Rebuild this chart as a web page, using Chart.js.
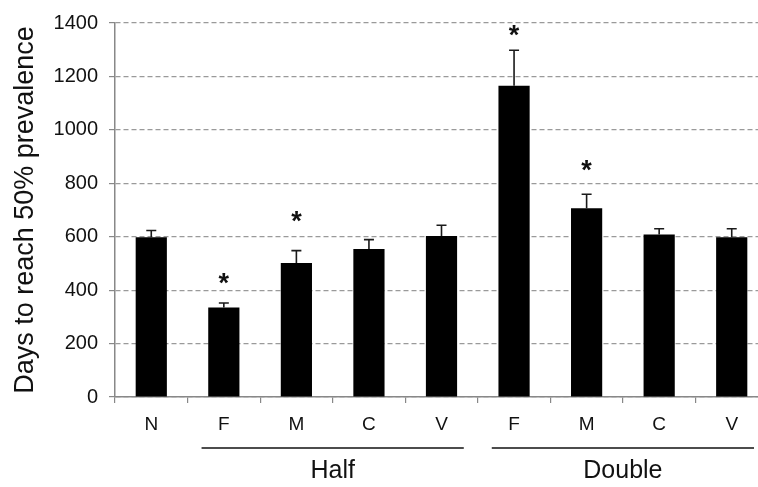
<!DOCTYPE html>
<html>
<head>
<meta charset="utf-8">
<script src="https://cdn.jsdelivr.net/npm/chart.js@4.4.1/dist/chart.umd.min.js"></script>
<style>
  html, body { margin: 0; padding: 0; background: #fff; overflow: hidden; }
  canvas { display: block; }
</style>
</head>
<body>
<canvas id="prevChart" width="770" height="487"></canvas>
<script>
// categories (N = normal, then half / double groups)
const labels = ['N', 'F', 'M', 'C', 'V', 'F', 'M', 'C', 'V'];
const days = [598, 335, 502, 554, 603, 1165, 707, 608, 598];
const errUp = [25, 17, 46, 35, 40, 133, 52, 22, 32];
// asterisk positions in data units (null = not significant)
const starY = [null, 438, 670, null, null, 1367, 861, null, null];
const yTicks = [0, 200, 400, 600, 800, 1000, 1200, 1400];

const groupNames = ['Half', 'Double'];
const groupStart = [1, 5];
const groupEnd = [4, 8];

const FONT = '"Liberation Sans", Arial, sans-serif';

const errorBars = {
  id: 'errorBars',
  afterDatasetsDraw(chart) {
    const ctx = chart.ctx;
    const x = chart.scales.x, y = chart.scales.y;
    ctx.save();
    ctx.strokeStyle = '#1a1a1a';
    ctx.lineWidth = 1.6;
    days.forEach((v, i) => {
      const cx = x.getPixelForValue(i);
      const y0 = y.getPixelForValue(v);
      const y1 = y.getPixelForValue(v + errUp[i]);
      ctx.beginPath();
      ctx.moveTo(cx, y0);
      ctx.lineTo(cx, y1);
      ctx.moveTo(cx - 5, y1);
      ctx.lineTo(cx + 5, y1);
      ctx.stroke();
    });
    ctx.fillStyle = '#111';
    ctx.font = 'bold 27px ' + FONT;
    ctx.textAlign = 'center';
    ctx.textBaseline = 'middle';
    starY.forEach((s, i) => {
      if (s === null) return;
      ctx.fillText('*', x.getPixelForValue(i), y.getPixelForValue(s) + 5);
    });
    ctx.restore();
  }
};

const groupLabels = {
  id: 'groupLabels',
  afterDraw(chart) {
    const ctx = chart.ctx;
    const x = chart.scales.x;
    ctx.save();
    ctx.strokeStyle = '#111';
    ctx.lineWidth = 1.5;
    ctx.fillStyle = '#111';
    ctx.font = '25px ' + FONT;
    ctx.textAlign = 'center';
    ctx.textBaseline = 'middle';
    groupNames.forEach((name, g) => {
      const x0 = x.getPixelForValue(groupStart[g] - 0.5) + 14;
      const x1 = x.getPixelForValue(groupEnd[g] + 0.5) - 14;
      ctx.beginPath();
      ctx.moveTo(x0, 448);
      ctx.lineTo(x1, 448);
      ctx.stroke();
      ctx.fillText(name, (x0 + x1) / 2, 471);
    });
    ctx.restore();
  }
};

new Chart(document.getElementById('prevChart'), {
  type: 'bar',
  data: {
    labels: labels,
    datasets: [{
      data: days,
      backgroundColor: '#000',
      borderWidth: 0,
      barPercentage: 0.43,
      categoryPercentage: 1.0
    }]
  },
  options: {
    responsive: false,
    animation: false,
    events: [],
    layout: { padding: { top: 20, right: 2, bottom: 50, left: 0 } },
    plugins: { legend: { display: false }, tooltip: { enabled: false } },
    scales: {
      x: {
        grid: { drawOnChartArea: false, color: '#888', tickLength: 6, lineWidth: 1.2 },
        border: { color: '#888', width: 1.5 },
        ticks: { color: '#111', font: { family: FONT, size: 19 }, padding: 10 },
        afterFit(scale) { scale.height = 40; }
      },
      y: {
        min: 0,
        max: 1400,
        afterBuildTicks(scale) { scale.ticks = yTicks.map(v => ({ value: v })); },
        grid: { color: '#9a9a9a', lineWidth: 1.2, tickLength: 6, tickColor: '#888' },
        border: { color: '#888', width: 1.5, dash: [5, 3] },
        ticks: {
          color: '#111',
          font: { family: FONT, size: 20 },
          padding: 11,
          callback: v => String(v)
        },
        title: {
          display: true,
          text: 'Days to reach 50% prevalence',
          color: '#111',
          font: { family: FONT, size: 27 },
          padding: { top: 9, bottom: 0 }
        },
        afterFit(scale) { scale.width = 115; }
      }
    }
  },
  plugins: [errorBars, groupLabels]
});
</script>
</body>
</html>
